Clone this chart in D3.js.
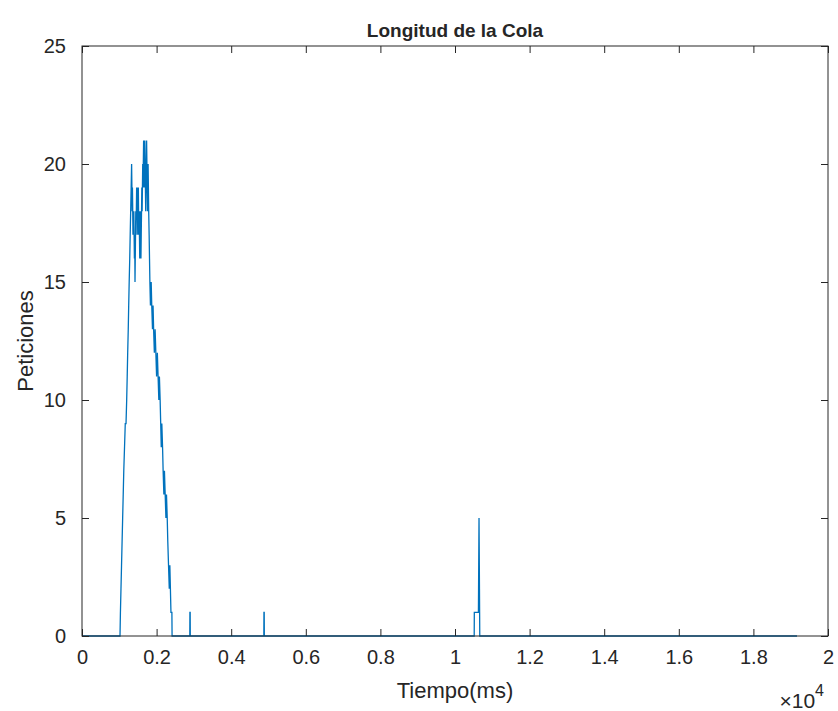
<!DOCTYPE html>
<html>
<head>
<meta charset="utf-8">
<script src="https://cdn.jsdelivr.net/npm/d3@7"></script>
<style>
  body { margin: 0; background: #fff; }
  svg text { font-family: "Liberation Sans", Arial, sans-serif; fill: #262626; }
</style>
</head>
<body>
<div id="chart"></div>
<script>
// --- Data ---
// [time in ms, queue length]
const rampUp = [
  [0, 0], [1019, 0], [1030, 1], [1045, 2], [1060, 3], [1075, 4], [1090, 5],
  [1105, 6], [1120, 7], [1140, 8], [1160, 9], [1180, 9], [1198, 10],
  [1212, 11], [1225, 12], [1240, 13], [1252, 14], [1265, 15], [1280, 16],
  [1292, 17], [1305, 18], [1318, 19], [1330, 20]
];
const peak = [
  [1338, 19], [1345, 18], [1352, 19], [1360, 18], [1367, 17], [1375, 18],
  [1382, 17], [1390, 18], [1397, 17], [1405, 16], [1413, 17], [1421, 15],
  [1428, 16], [1435, 17], [1442, 18], [1450, 17], [1457, 18], [1465, 19],
  [1472, 18], [1480, 19], [1487, 18], [1495, 17], [1502, 18], [1510, 19],
  [1517, 18], [1525, 17], [1532, 18], [1540, 17], [1548, 16], [1556, 17],
  [1564, 18], [1572, 17], [1580, 16], [1588, 17], [1596, 18], [1604, 19],
  [1612, 18], [1620, 19], [1628, 20], [1636, 19], [1644, 20], [1652, 21],
  [1660, 20], [1668, 19], [1676, 20], [1684, 21], [1692, 20], [1700, 19],
  [1708, 18], [1716, 19], [1724, 20], [1732, 21], [1740, 20], [1748, 19],
  [1756, 18], [1764, 19], [1772, 20], [1780, 19], [1788, 18]
];
const rampDown = [
  [1800, 17], [1810, 16], [1820, 15], [1835, 14], [1855, 15], [1870, 14],
  [1890, 13], [1905, 14], [1920, 13], [1940, 12], [1960, 13], [1980, 12],
  [2000, 11], [2020, 12], [2040, 11], [2060, 10], [2075, 11], [2095, 10],
  [2110, 9], [2125, 8], [2140, 9], [2160, 8], [2175, 7], [2195, 6],
  [2210, 7], [2230, 6], [2250, 5], [2265, 6], [2285, 5], [2300, 4],
  [2320, 3], [2340, 2], [2355, 3], [2370, 2], [2385, 1], [2410, 1], [2415, 0]
];
const tail = [
  [2890, 0], [2893, 1], [2900, 1], [2903, 0],
  [4875, 0], [4878, 1], [4885, 1], [4888, 0],
  [10515, 0], [10518, 1], [10628, 1], [10632, 2], [10636, 3], [10640, 4],
  [10644, 5], [10648, 4], [10652, 3], [10656, 2], [10660, 1], [10664, 0],
  [19170, 0]
];

const xTicks = [0, 2000, 4000, 6000, 8000, 10000, 12000, 14000, 16000, 18000, 20000];
const yTicks = [0, 5, 10, 15, 20, 25];

const chartTitle = "Longitud de la Cola";
const xLabel = "Tiempo(ms)";
const yLabel = "Peticiones";

// --- Layout ---
const width = 838, height = 711;
const margin = { top: 46, right: 10, bottom: 75, left: 82 };
const innerW = width - margin.left - margin.right;
const innerH = height - margin.top - margin.bottom;
const axisColor = "#262626";
const lineColor = "#0072bd";
const tickLen = 7;

const svg = d3.select("#chart").append("svg")
  .attr("width", width)
  .attr("height", height);

const g = svg.append("g")
  .attr("transform", `translate(${margin.left},${margin.top})`);

const x = d3.scaleLinear().domain([0, 20000]).range([0, innerW]);
const y = d3.scaleLinear().domain([0, 25]).range([innerH, 0]);

const points = [...rampUp, ...peak, ...rampDown, ...tail];

// Data line
g.append("path")
  .datum(points)
  .attr("fill", "none")
  .attr("stroke", lineColor)
  .attr("stroke-width", 1.3)
  .attr("d", d3.line().x(d => x(d[0])).y(d => y(d[1])));

// Axes (MATLAB style: ticks inward, box on)
const fmtX = d => d3.format("~g")(d / 10000);

g.append("g")
  .attr("transform", `translate(0,${innerH})`)
  .call(d3.axisBottom(x).tickValues(xTicks).tickSize(-tickLen).tickPadding(14).tickFormat(fmtX))
  .call(s => s.select(".domain").remove())
  .call(s => s.selectAll("line").attr("stroke", axisColor))
  .call(s => s.selectAll("text").style("font-size", "20px").attr("fill", axisColor));

g.append("g")
  .call(d3.axisTop(x).tickValues(xTicks).tickSize(-tickLen).tickFormat(""))
  .call(s => s.select(".domain").remove())
  .call(s => s.selectAll("line").attr("stroke", axisColor));

g.append("g")
  .call(d3.axisLeft(y).tickValues(yTicks).tickSize(-tickLen).tickPadding(16))
  .call(s => s.select(".domain").remove())
  .call(s => s.selectAll("line").attr("stroke", axisColor))
  .call(s => s.selectAll("text").style("font-size", "20px").attr("fill", axisColor));

g.append("g")
  .attr("transform", `translate(${innerW},0)`)
  .call(d3.axisRight(y).tickValues(yTicks).tickSize(-tickLen).tickFormat(""))
  .call(s => s.select(".domain").remove())
  .call(s => s.selectAll("line").attr("stroke", axisColor));

// Box
g.append("rect")
  .attr("width", innerW)
  .attr("height", innerH)
  .attr("fill", "none")
  .attr("stroke", axisColor)
  .attr("stroke-width", 1);

// Title and labels
svg.append("text")
  .attr("x", margin.left + innerW / 2)
  .attr("y", 37)
  .attr("text-anchor", "middle")
  .style("font-size", "19px")
  .style("font-weight", "bold")
  .attr("fill", "#000")
  .text(chartTitle);

svg.append("text")
  .attr("x", margin.left + innerW / 2)
  .attr("y", 698)
  .attr("text-anchor", "middle")
  .style("font-size", "22px")
  .text(xLabel);

svg.append("text")
  .attr("transform", `translate(33,${margin.top + innerH / 2}) rotate(-90)`)
  .attr("text-anchor", "middle")
  .style("font-size", "22px")
  .text(yLabel);

// Exponent label
const expo = svg.append("text")
  .attr("x", width - 14)
  .attr("y", 708)
  .attr("text-anchor", "end")
  .style("font-size", "21px");
expo.append("tspan").text("\u00d710");
expo.append("tspan").attr("dy", -12).style("font-size", "16px").text("4");
</script>
</body>
</html>
